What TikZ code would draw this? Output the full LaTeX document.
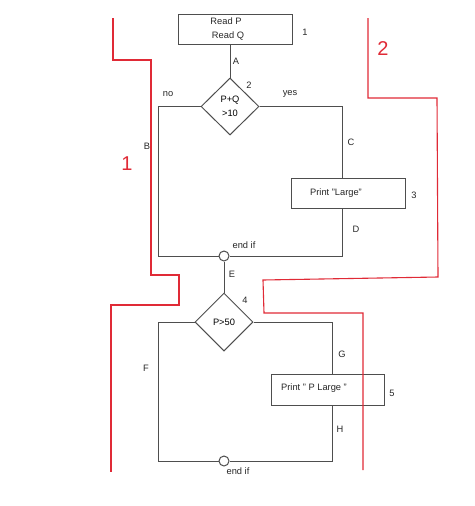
\documentclass[tikz,border=0pt]{standalone}
\usepackage{fontspec}
\setmainfont{Liberation Sans}
\usepackage{xcolor}
\usepackage{tikz}
\usetikzlibrary{shapes.geometric}
\usetikzlibrary{positioning}
\definecolor{flowgray}{HTML}{4E4E4E}
\definecolor{pathred}{HTML}{E02A36}
\tikzset{%
  stepbox/.style={rectangle,draw=flowgray,line width=1pt,inner sep=0pt},
  decide/.style={diamond,draw=flowgray,line width=1pt,inner sep=0pt,minimum width=58pt,minimum height=57pt},
  joint/.style={circle,draw=flowgray,line width=1pt,fill=white,inner sep=0pt,minimum size=10pt},
  flow/.style={draw=flowgray,line width=1pt},
  lbl/.style={font=\fontsize{9.3}{11}\selectfont,inner sep=0pt,text=black!85},
  pathline/.style={draw=pathred,line width=1.1pt},
  pathlbl/.style={font=\fontsize{20}{22}\selectfont,text=pathred,inner sep=0pt}
}
\newcommand\flowsize{\fontsize{9.3}{14}\selectfont}
\begin{document}
\begin{tikzpicture}[x=1pt,y=-1pt]
            \useasboundingbox (0,0) rectangle (474,506);
            \node[stepbox,minimum width=114pt,minimum height=30pt](read) at (235,29){};
            \node[lbl](readp) at (226,21){Read P};
            \node[lbl](readq) at (228,36){Read Q};
            \node[lbl](n1) at (305,32){1};
            \node[decide,align=center,font=\flowsize](ifq) at (230,106.5){P+Q\\>10};
            \node[lbl](n2) at (249,85){2};
            \node[stepbox,minimum width=114pt,minimum height=30pt](large) at (348,193){};
            \node[lbl](largetxt) at (336,193){Print "Large"};
            \node[lbl](n3) at (414,195){3};
            \node[joint](endif1) at (224,256){};
            \node[decide,minimum height=58pt,font=\flowsize](ifp) at (224,322){P>50};
            \node[lbl](n4) at (245,300){4};
            \node[stepbox,minimum width=113pt,minimum height=31pt](plarge) at (327.5,389.5){};
            \node[lbl](plargetxt) at (314,388){Print " P Large "};
            \node[lbl](n5) at (392,393){5};
            \node[joint](endif2) at (224,461){};
            \coordinate(bl1) at (158,256);
            \coordinate(br1) at (342,256);
            \coordinate(bl2) at (158,461);
            \coordinate(br2) at (332,461);
            \draw[flow] (ifq.north) -- (ifq.north |- read.south);
            \draw[flow] (ifq.west) -| (bl1) -- (endif1);
            \draw[flow] (ifq.east) -| (br1 |- large.north);
            \draw[flow] (br1 |- large.south) -- (br1) -- (endif1);
            \draw[flow] (endif1) -- (ifp);
            \draw[flow] (ifp.west) -| (bl2) -- (endif2);
            \draw[flow] (ifp.east) -| (br2 |- plarge.north);
            \draw[flow] (br2 |- plarge.south) -- (br2) -- (endif2);
            \node[lbl](la) at (236,61){A};
            \node[lbl](lno) at (168,94){no};
            \node[lbl](lyes) at (290,94){yes};
            \node[lbl](lb) at (147,146){B};
            \node[lbl](lc) at (351,142){C};
            \node[lbl](ld) at (356,229){D};
            \node[lbl](lend1) at (244,245){end if};
            \node[lbl](le) at (232,274){E};
            \node[lbl](lf) at (146,368){F};
            \node[lbl](lg) at (342,354){G};
            \node[lbl](lh) at (340,429){H};
            \node[lbl](lend2) at (238,471){end if};
            \draw[pathline] (113,18) -- (113,60) -- (151,60) -- (151,275) -- (179,275) -- (179,305) -- (111,305) -- (111,472);
            \draw[pathline] (368,18) -- (368,98) -- (437,98) -- (438,277) -- (263,280) -- (264,313) -- (363,313) -- (363,470);
            \node[pathlbl](path1) at (127,164){1};
            \node[pathlbl](path2) at (383,49){2};
        \end{tikzpicture}
\end{document}
